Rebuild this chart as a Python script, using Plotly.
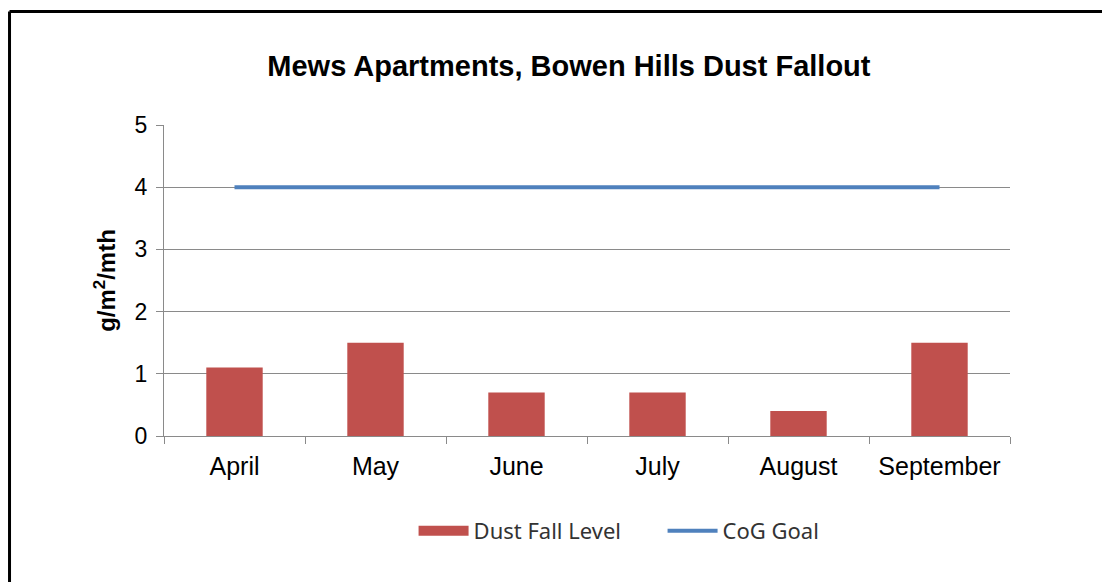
import plotly.graph_objects as go

# data
months = ["April", "May", "June", "July", "August", "September"]
dust_fall = [1.1, 1.5, 0.7, 0.7, 0.4, 1.5]
cog_goal = [4, 4, 4, 4, 4, 4]
y_ticks = [0, 1, 2, 3, 4, 5]

RED = "#C0504D"
BLUE = "#4F81BD"
GRID = "#8A8A8A"

fig = go.Figure()

fig.add_trace(go.Bar(
    x=months,
    y=dust_fall,
    name="Dust Fall Level",
    marker_color=RED,
    marker_line_width=0,
    showlegend=False,
))

# legend key for the bars: wide red block like the original
fig.add_trace(go.Scatter(
    x=[None],
    y=[None],
    name="Dust Fall Level",
    mode="lines",
    line=dict(color=RED, width=14),
))

fig.add_trace(go.Scatter(
    x=months,
    y=cog_goal,
    name="CoG Goal",
    mode="lines",
    line=dict(color=BLUE, width=4),
))

fig.update_layout(
    width=1102,
    height=574,
    title=dict(
        text="<b>Mews Apartments, Bowen Hills Dust Fallout</b>",
        x=0.509,
        xanchor="center",
        y=0.899,
        yanchor="middle",
        font=dict(family="Liberation Sans, Arial", size=29, color="#000000"),
    ),
    font=dict(family="Liberation Sans, Arial", size=23, color="#000000"),
    xaxis=dict(
        showline=True,
        linecolor=GRID,
        linewidth=1,
        ticks="outside",
        ticklen=7,
        tickcolor=GRID,
        tickson="boundaries",
        tickfont=dict(size=25),
        ticklabelstandoff=8,
        showgrid=False,
    ),
    yaxis=dict(
        range=[0, 5],
        tickvals=y_ticks,
        showline=True,
        linecolor=GRID,
        linewidth=1,
        ticks="outside",
        ticklen=7,
        tickcolor=GRID,
        ticklabelstandoff=4,
        showgrid=True,
        gridcolor=GRID,
        gridwidth=1,
        zeroline=False,
        title=dict(
            text="<b>g/m<sup>2</sup>/mth</b>",
            font=dict(family="Liberation Sans, Arial", size=24),
            standoff=12,
        ),
    ),
    legend=dict(
        orientation="h",
        x=0.295,
        xanchor="left",
        y=-0.305,
        yanchor="middle",
        itemwidth=50,
        entrywidth=184,
        font=dict(family="Noto Sans, Open Sans", size=22, color="#333333"),
    ),
    bargap=0.6,
    margin=dict(l=156, r=100, t=117, b=146),
    paper_bgcolor="white",
    plot_bgcolor="white",
)

# outer frame (only left and top edges fall inside the picture)
fig.add_shape(type="line", xref="paper", yref="paper",
              x0=-0.1826, x1=-0.1826, y0=-0.47, y1=1.365,
              line=dict(color="black", width=3))
fig.add_shape(type="line", xref="paper", yref="paper",
              x0=-0.1826, x1=1.12, y0=1.365, y1=1.365,
              line=dict(color="black", width=3))

fig.write_html("out.html")
